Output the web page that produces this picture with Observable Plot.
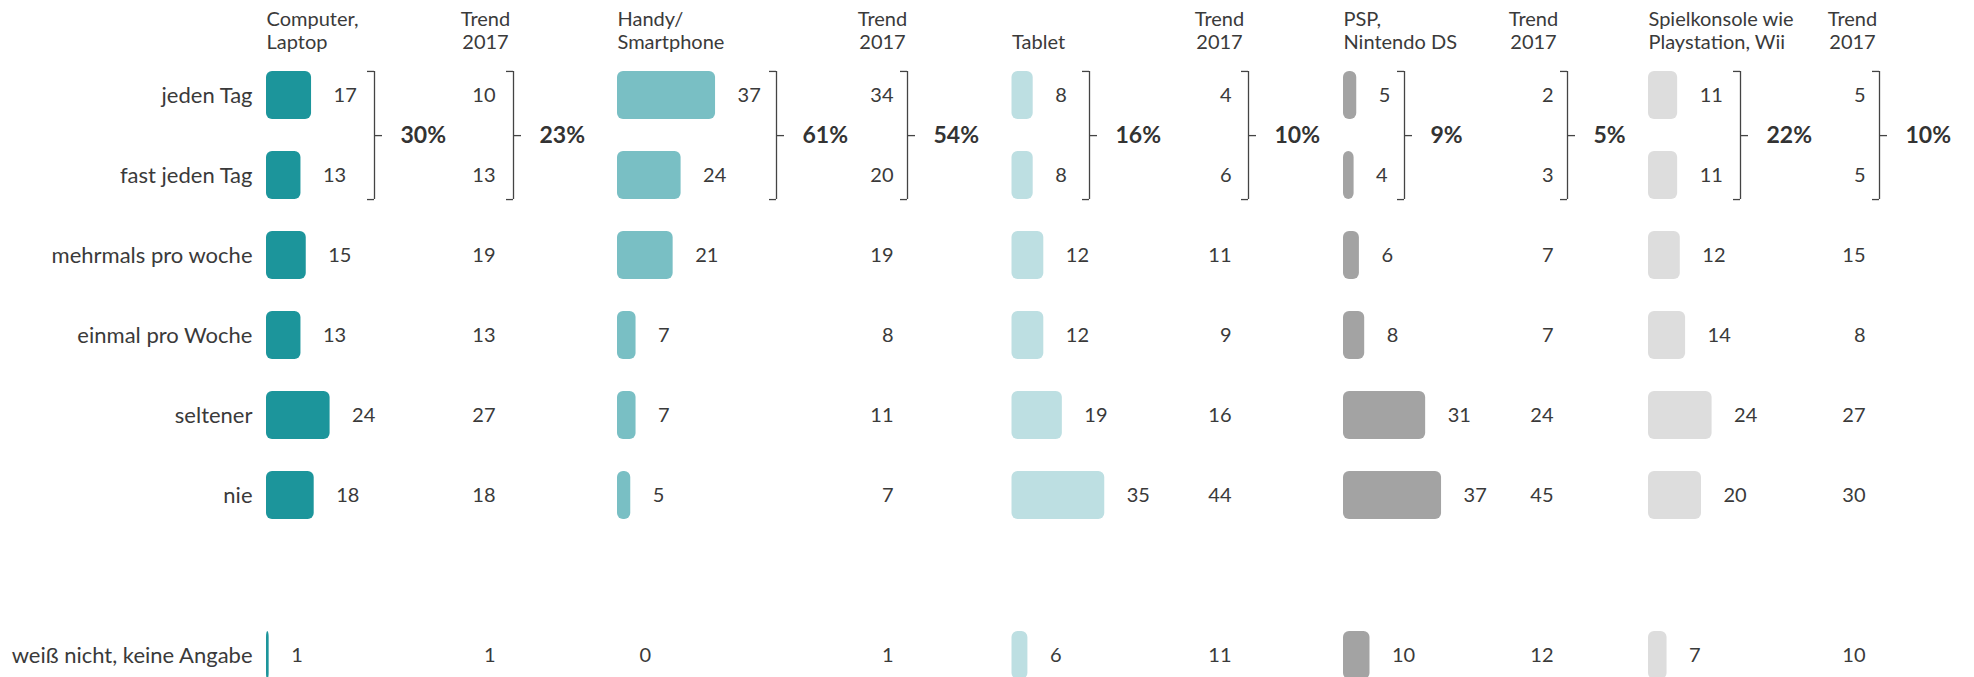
<!DOCTYPE html>
<html>
<head>
<meta charset="utf-8">
<script src="https://cdn.jsdelivr.net/npm/d3@7"></script>
<script src="https://cdn.jsdelivr.net/npm/@observablehq/plot@0.6"></script>
<style>
  body { margin: 0; background: #ffffff; }
  #chart { display: flex; width: 1974px; height: 677px; overflow: hidden; background: #ffffff; }
  #chart svg { flex: none; display: block; }
</style>
</head>
<body>
<div id="chart"></div>
<script>
// ---------- data ----------
const rowLabels = ["jeden Tag", "fast jeden Tag", "mehrmals pro woche", "einmal pro Woche", "seltener", "nie", "weiß nicht, keine Angabe"];
const deviceNames = ["Computer,\nLaptop", "Handy/\nSmartphone", "Tablet", "PSP,\nNintendo DS", "Spielkonsole wie\nPlaystation, Wii"];
const trendHeader = "Trend\n2017";

const computerValues = [17, 13, 15, 13, 24, 18, 1];
const computerTrend2017 = [10, 13, 19, 13, 27, 18, 1];
const handyValues = [37, 24, 21, 7, 7, 5, 0];
const handyTrend2017 = [34, 20, 19, 8, 11, 7, 1];
const tabletValues = [8, 8, 12, 12, 19, 35, 6];
const tabletTrend2017 = [4, 6, 11, 9, 16, 44, 11];
const pspValues = [5, 4, 6, 8, 31, 37, 10];
const pspTrend2017 = [2, 3, 7, 7, 24, 45, 12];
const konsoleValues = [11, 11, 12, 14, 24, 20, 7];
const konsoleTrend2017 = [5, 5, 15, 8, 27, 30, 10];

const dailySum = ["30%", "61%", "16%", "9%", "22%"];
const dailySumTrend2017 = ["23%", "54%", "10%", "5%", "10%"];

// ---------- styles and layout ----------
const colors = ["#1c959b", "#79bfc4", "#bddfe2", "#a3a3a3", "#dddddd"];
const textColor = "#3a3a3a";
const bracketColor = "#444444";
const PX_PER_UNIT = 2.65;          // bar length per percentage point
const STEP = 80.2;                  // row pitch
const FIRST_CENTER = 94.3;          // centre of first row
const BAR_FRAC = 0.6;               // bar height / row pitch
const BW = STEP * BAR_FRAC;

// panel geometry in page pixels
const panels = [
  {left: 0,    right: 600,  bar: 266,    br1: 374,  pct1: 401,  trendRight: 495,  trendHead: 485,  br2: 513,  pct2: 539},
  {left: 600,  right: 1000, bar: 617,    br1: 776,  pct1: 803,  trendRight: 893,  trendHead: 882,  br2: 907,  pct2: 933},
  {left: 1000, right: 1330, bar: 1011.5, br1: 1089, pct1: 1116, trendRight: 1231, trendHead: 1219, br2: 1248, pct2: 1274},
  {left: 1330, right: 1640, bar: 1343,   br1: 1404, pct1: 1430, trendRight: 1553, trendHead: 1533, br2: 1567, pct2: 1590},
  {left: 1640, right: 1974, bar: 1648,   br1: 1740, pct1: 1764, trendRight: 1865, trendHead: 1852, br2: 1879, pct2: 1906}
];

const seriesValues = [computerValues, handyValues, tabletValues, pspValues, konsoleValues];
const seriesTrend = [computerTrend2017, handyTrend2017, tabletTrend2017, pspTrend2017, konsoleTrend2017];

// y domain with an empty spacer row before the last category
const yDomain = [...rowLabels.slice(0, 6), "", rowLabels[6]];
const yRange = [FIRST_CENTER - STEP / 2, FIRST_CENTER - STEP / 2 + STEP * yDomain.length];

function bracket(xu, label) {
  const first = rowLabels[0], second = rowLabels[1];
  const tick = 7 / PX_PER_UNIT, mid = 8 / PX_PER_UNIT;
  const line = {stroke: bracketColor, strokeWidth: 1.3};
  return [
    Plot.ruleX([0], {x: xu, y1: () => first, y2: () => second, ...line}),
    Plot.ruleY([first], {y: d => d, x1: xu - tick, x2: xu, dy: -BW / 2, ...line}),
    Plot.ruleY([second], {y: d => d, x1: xu - tick, x2: xu, dy: BW / 2, ...line}),
    Plot.ruleY([first], {y: d => d, x1: xu, x2: xu + mid, dy: STEP / 2, ...line}),
    Plot.text([label], {x: xu + 26 / PX_PER_UNIT, y: () => first, dy: STEP / 2, text: d => d,
      textAnchor: "start", fontWeight: 700, fontSize: 23, fill: "#333333"})
  ];
}

const chart = document.getElementById("chart");

panels.forEach((P, p) => {
  const rows = rowLabels.map((label, i) => ({label, value: seriesValues[p][i], trend: seriesTrend[p][i]}));
  const U = px => (px - P.bar) / PX_PER_UNIT;   // page px -> value units of this panel
  const width = P.right - P.left;
  const x0 = P.bar - P.left;
  const svg = Plot.plot({
    width,
    height: 677,
    marginLeft: p === 0 ? x0 : 0,
    marginRight: 0,
    marginTop: 48,
    marginBottom: 0,
    style: {fontFamily: "Lato, 'Open Sans', sans-serif", fontSize: "20px", color: textColor, background: "transparent", overflow: "visible", maxWidth: "none"},
    x: {domain: [0, 50], range: [x0, x0 + 50 * PX_PER_UNIT], axis: null},
    y: {
      domain: yDomain, range: yRange, paddingInner: 0.4, paddingOuter: 0.2,
      axis: p === 0 ? "left" : null, tickSize: 0, tickPadding: 14, label: null
    },
    marks: [
      Plot.barX(rows, {x: "value", y: "label", fill: colors[p], rx: 6}),
      Plot.text(rows, {x: "value", y: "label", text: d => String(d.value), dx: 22, textAnchor: "start"}),
      Plot.text(rows, {x: U(P.trendRight), y: "label", text: d => String(d.trend), textAnchor: "end"}),
      Plot.text([deviceNames[p]], {x: 0, text: d => d, frameAnchor: "top", lineAnchor: "bottom", textAnchor: "start", lineHeight: 1.12}),
      Plot.text([trendHeader], {x: U(P.trendHead), text: d => d, frameAnchor: "top", lineAnchor: "bottom", textAnchor: "middle", lineHeight: 1.12}),
      ...bracket(U(P.br1), dailySum[p]),
      ...bracket(U(P.br2), dailySumTrend2017[p])
    ]
  });
  // row labels of the y axis are set a little larger than the other texts
  svg.querySelectorAll('[aria-label^="y-axis"]').forEach(g => { g.style.fontSize = "22px"; });
  chart.appendChild(svg);
});
</script>
</body>
</html>
